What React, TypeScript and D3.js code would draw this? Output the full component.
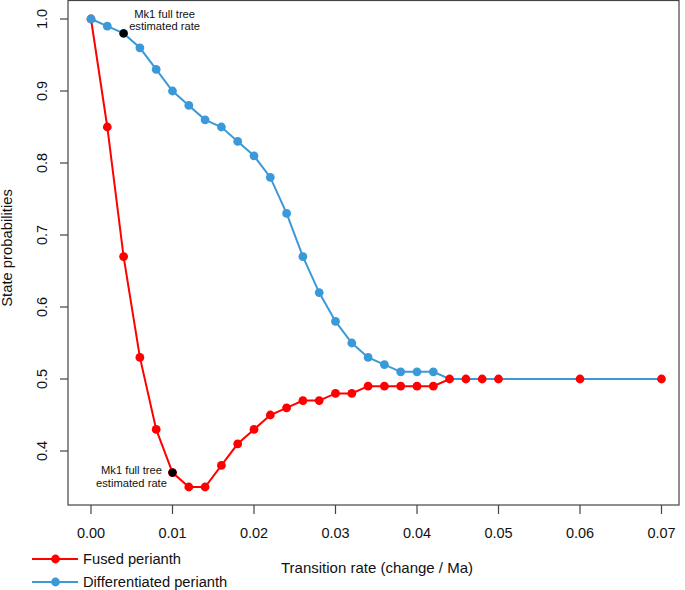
import React from "react";
import * as d3 from "d3";

const rates = [0, 0.002, 0.004, 0.006, 0.008, 0.01, 0.012, 0.014, 0.016, 0.018, 0.02, 0.022, 0.024, 0.026, 0.028, 0.03, 0.032, 0.034, 0.036, 0.038, 0.04, 0.042, 0.044, 0.046, 0.048, 0.05, 0.06, 0.07];
const fused = [1.0, 0.85, 0.67, 0.53, 0.43, 0.37, 0.35, 0.35, 0.38, 0.41, 0.43, 0.45, 0.46, 0.47, 0.47, 0.48, 0.48, 0.49, 0.49, 0.49, 0.49, 0.49, 0.5, 0.5, 0.5, 0.5, 0.5, 0.5];
const differentiated = [1.0, 0.99, 0.98, 0.96, 0.93, 0.9, 0.88, 0.86, 0.85, 0.83, 0.81, 0.78, 0.73, 0.67, 0.62, 0.58, 0.55, 0.53, 0.52, 0.51, 0.51, 0.51, 0.5, 0.5, 0.5, 0.5, 0.5, 0.5];
const xTicks = [0, 0.01, 0.02, 0.03, 0.04, 0.05, 0.06, 0.07];
const yTicks = [0.4, 0.5, 0.6, 0.7, 0.8, 0.9, 1.0];
const estimates = [
  { series: "differentiated", rate: 0.004, value: 0.98 },
  { series: "fused", rate: 0.01, value: 0.37 },
];
const annotationLines = ["Mk1 full tree", "estimated rate"];

const RED = "#FF0000";
const BLUE = "#3A9AD9";
const FONT = "Liberation Sans, Arial, Helvetica, sans-serif";

export default function App() {
  const W = 685, H = 590;
  const box = { left: 68, right: 679, top: 0.5, bottom: 505 };
  const x = d3.scaleLinear().domain([0, 0.07]).range([91, 661.5]);
  const y = d3.scaleLinear().domain([0.4, 1.0]).range([451, 19]);
  const line = d3.line<number>().x((_, i) => x(rates[i])).y((d) => y(d));

  const redPts = fused.map((v, i) => ({ x: x(rates[i]), y: y(v) }));
  const bluePts = differentiated
    .map((v, i) => ({ x: x(rates[i]), y: y(v), keep: i === 0 || v !== fused[i] }))
    .filter((p) => p.keep);

  const r = 4.4;
  return (
    <svg width={W} height={H} style={{ position: "absolute", left: 0, top: 0, background: "#fff" }} fontFamily={FONT}>
      <rect x={0} y={0} width={W} height={H} fill="#fff" />
      {/* box */}
      <rect x={box.left} y={box.top} width={box.right - box.left} height={box.bottom - box.top} fill="none" stroke="#444" strokeWidth={1.2} />
      {/* x axis ticks */}
      {xTicks.map((t) => (
        <g key={"xt" + t}>
          <line x1={x(t)} x2={x(t)} y1={box.bottom} y2={box.bottom + 9} stroke="#444" strokeWidth={1.2} />
          <text x={x(t)} y={538} fontSize={14.5} textAnchor="middle" fill="#111">{t.toFixed(2)}</text>
        </g>
      ))}
      {/* y axis ticks */}
      {yTicks.map((t) => (
        <g key={"yt" + t}>
          <line x1={box.left - 8} x2={box.left} y1={y(t)} y2={y(t)} stroke="#444" strokeWidth={1.2} />
          <text transform={`translate(47,${y(t)}) rotate(-90)`} fontSize={14.5} textAnchor="middle" fill="#111">{t.toFixed(1)}</text>
        </g>
      ))}
      <text x={377} y={573} fontSize={15} textAnchor="middle" fill="#111">Transition rate (change / Ma)</text>
      <text transform={`translate(11.5,248) rotate(-90)`} fontSize={14.8} textAnchor="middle" fill="#111">State probabilities</text>

      {/* lines */}
      <path d={line(fused) || ""} fill="none" stroke={RED} strokeWidth={2} />
      <path d={line(differentiated) || ""} fill="none" stroke={BLUE} strokeWidth={2} />
      {redPts.map((p, i) => <circle key={"r" + i} cx={p.x} cy={p.y} r={r} fill={RED} />)}
      {bluePts.map((p, i) => <circle key={"b" + i} cx={p.x} cy={p.y} r={r} fill={BLUE} />)}

      {/* estimated rate markers */}
      {estimates.map((e) => (
        <circle key={"e" + e.series} cx={x(e.rate)} cy={y(e.value)} r={4.2} fill="#000" />
      ))}
      <text fontSize={11.2} textAnchor="middle" fill="#111">
        <tspan x={x(estimates[0].rate) + 41} y={18}>{annotationLines[0]}</tspan>
        <tspan x={x(estimates[0].rate) + 41} y={30}>{annotationLines[1]}</tspan>
      </text>
      <text fontSize={11.2} textAnchor="middle" fill="#111">
        <tspan x={x(estimates[1].rate) - 41} y={474}>{annotationLines[0]}</tspan>
        <tspan x={x(estimates[1].rate) - 41} y={487}>{annotationLines[1]}</tspan>
      </text>

      {/* legend */}
      <g>
        <line x1={32} x2={78} y1={559} y2={559} stroke={RED} strokeWidth={2} />
        <circle cx={55.5} cy={559} r={r} fill={RED} />
        <text x={83} y={564} fontSize={14.7} fill="#111">Fused perianth</text>
        <line x1={32} x2={78} y1={582} y2={582} stroke={BLUE} strokeWidth={2} />
        <circle cx={55.5} cy={582} r={r} fill={BLUE} />
        <text x={83} y={587} fontSize={14.7} fill="#111">Differentiated perianth</text>
      </g>
    </svg>
  );
}
